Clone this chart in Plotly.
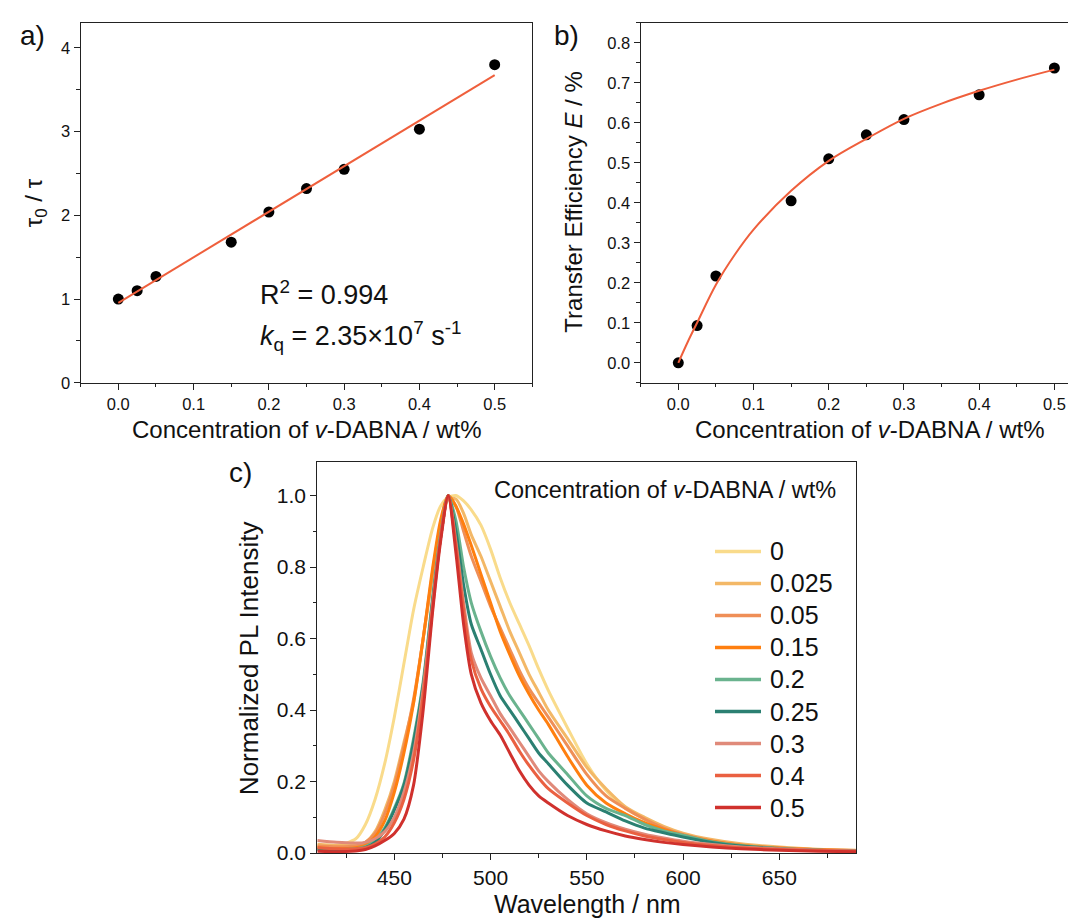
import plotly.graph_objects as go

W, H = 1076, 922
FONT = "Liberation Sans, Arial, sans-serif"

# ---------------- data ----------------
conc = [0, 0.025, 0.05, 0.15, 0.2, 0.25, 0.3, 0.4, 0.5]
tau_ratio = [1.0, 1.10, 1.27, 1.68, 2.04, 2.32, 2.55, 3.03, 3.80]
fit_a_x = [0.0, 0.5]
fit_a_y = [0.955, 3.675]

eff = [0.0, 0.093, 0.217, 0.405, 0.51, 0.57, 0.608, 0.67, 0.737]
fit_b_x = [0, 0.0125, 0.025, 0.05, 0.075, 0.1, 0.15, 0.2, 0.25, 0.3, 0.35, 0.4, 0.45, 0.5]
fit_b_y = [0.0, 0.052, 0.100, 0.195, 0.27, 0.333, 0.43, 0.505, 0.56, 0.61, 0.648, 0.68, 0.708, 0.733]

wavelength = [410, 420, 430, 435, 440, 445, 450, 455, 460, 465, 470, 474, 478, 482, 486, 490,
              495, 500, 505, 510, 515, 520, 525, 530, 540, 550, 560, 570, 580, 590, 600, 615,
              630, 650, 670, 690]

pl_0 = [0.02, 0.02, 0.04, 0.08, 0.15, 0.25, 0.38, 0.53, 0.68, 0.80, 0.91, 0.97, 0.995, 1.0, 0.985, 0.96,
        0.917, 0.85, 0.77, 0.70, 0.64, 0.58, 0.515, 0.455, 0.35, 0.25, 0.175, 0.125, 0.095, 0.07, 0.05, 0.033,
        0.022, 0.014, 0.01, 0.007]
pl_0025 = [0.025, 0.022, 0.022, 0.03, 0.06, 0.12, 0.20, 0.31, 0.42, 0.60, 0.78, 0.90, 0.99, 0.99, 0.95, 0.89,
           0.83, 0.76, 0.69, 0.62, 0.56, 0.50, 0.45, 0.40, 0.32, 0.24, 0.18, 0.13, 0.10, 0.075, 0.056, 0.038,
           0.026, 0.017, 0.011, 0.008]
pl_005 = [0.02, 0.018, 0.02, 0.03, 0.055, 0.11, 0.19, 0.30, 0.43, 0.60, 0.79, 0.92, 1.0, 0.97, 0.90, 0.83,
          0.76, 0.69, 0.63, 0.57, 0.51, 0.46, 0.42, 0.38, 0.30, 0.22, 0.16, 0.125, 0.095, 0.07, 0.052, 0.034,
          0.023, 0.014, 0.01, 0.007]
pl_015 = [0.015, 0.012, 0.015, 0.022, 0.045, 0.09, 0.17, 0.28, 0.42, 0.60, 0.80, 0.93, 1.0, 0.97, 0.92, 0.86,
          0.78, 0.70, 0.62, 0.555, 0.495, 0.445, 0.40, 0.36, 0.27, 0.19, 0.14, 0.11, 0.085, 0.066, 0.05, 0.033,
          0.022, 0.014, 0.009, 0.006]
pl_02 = [0.012, 0.01, 0.012, 0.018, 0.035, 0.07, 0.125, 0.195, 0.32, 0.48, 0.72, 0.89, 1.0, 0.93, 0.80, 0.70,
         0.62, 0.55, 0.49, 0.44, 0.40, 0.36, 0.32, 0.28, 0.22, 0.16, 0.125, 0.105, 0.08, 0.062, 0.05, 0.032,
         0.021, 0.013, 0.008, 0.006]
pl_025 = [0.01, 0.008, 0.01, 0.015, 0.03, 0.065, 0.12, 0.19, 0.31, 0.47, 0.71, 0.88, 1.0, 0.90, 0.75, 0.64,
          0.57, 0.50, 0.44, 0.40, 0.36, 0.32, 0.28, 0.25, 0.19, 0.14, 0.115, 0.09, 0.07, 0.057, 0.045, 0.03,
          0.02, 0.012, 0.008, 0.005]
pl_03 = [0.035, 0.03, 0.028, 0.03, 0.04, 0.06, 0.10, 0.17, 0.28, 0.46, 0.70, 0.88, 1.0, 0.87, 0.70, 0.56,
         0.49, 0.44, 0.39, 0.35, 0.31, 0.27, 0.23, 0.20, 0.15, 0.11, 0.085, 0.067, 0.053, 0.042, 0.033, 0.024,
         0.017, 0.012, 0.008, 0.006]
pl_04 = [0.015, 0.012, 0.012, 0.015, 0.025, 0.045, 0.085, 0.15, 0.26, 0.44, 0.69, 0.88, 1.0, 0.86, 0.68, 0.54,
         0.46, 0.41, 0.37, 0.33, 0.285, 0.245, 0.21, 0.18, 0.14, 0.105, 0.08, 0.062, 0.048, 0.038, 0.03, 0.021,
         0.015, 0.01, 0.007, 0.005]
pl_05 = [0.005, 0.004, 0.006, 0.01, 0.02, 0.035, 0.055, 0.095, 0.19, 0.40, 0.68, 0.87, 1.0, 0.84, 0.64, 0.50,
         0.42, 0.37, 0.33, 0.28, 0.23, 0.19, 0.16, 0.14, 0.105, 0.08, 0.062, 0.048, 0.038, 0.03, 0.024, 0.017,
         0.012, 0.008, 0.005, 0.004]

legend_labels = ["0", "0.025", "0.05", "0.15", "0.2", "0.25", "0.3", "0.4", "0.5"]
spectra = [pl_0, pl_0025, pl_005, pl_015, pl_02, pl_025, pl_03, pl_04, pl_05]
colors = ["#F9DB8B", "#F3B867", "#EF8F57", "#FF7F0F", "#6AB38E", "#2B8072", "#E08A7A", "#EA6041", "#D0312D"]

FIT_COLOR = "#EF5F3C"


def px(x):
    return x / W


def py(y):
    return 1 - y / H


fig = go.Figure()

# panel a
fig.add_trace(go.Scatter(x=conc, y=tau_ratio, mode="markers", marker=dict(size=11, color="black"),
                         xaxis="x", yaxis="y", showlegend=False))
fig.add_trace(go.Scatter(x=fit_a_x, y=fit_a_y, mode="lines", line=dict(color=FIT_COLOR, width=2),
                         xaxis="x", yaxis="y", showlegend=False))
# panel b
fig.add_trace(go.Scatter(x=conc, y=eff, mode="markers", marker=dict(size=11, color="black"),
                         xaxis="x2", yaxis="y2", showlegend=False))
fig.add_trace(go.Scatter(x=fit_b_x, y=fit_b_y, mode="lines", line=dict(color=FIT_COLOR, width=2, shape="spline"),
                         xaxis="x2", yaxis="y2", showlegend=False))
# panel c
for lab, ys, col in zip(legend_labels, spectra, colors):
    fig.add_trace(go.Scatter(x=wavelength, y=ys, mode="lines", name=lab,
                             line=dict(color=col, width=3, shape="spline", smoothing=0.7),
                             xaxis="x3", yaxis="y3", showlegend=False))


def axis_style(size):
    return dict(showline=True, linecolor="#222", linewidth=1.3, mirror=True,
                ticks="outside", ticklen=6, tickwidth=1.3, tickcolor="#222",
                showgrid=False, zeroline=False,
                tickfont=dict(family=FONT, size=size, color="#111"),
                minor=dict(ticks="outside", ticklen=3.5, tickwidth=1.3, tickcolor="#222", showgrid=False))


ya_dom = [py(379.3), py(15)]
fig.update_layout(
    width=W, height=H, margin=dict(l=0, r=0, t=0, b=0),
    paper_bgcolor="white", plot_bgcolor="white",
    font=dict(family=FONT, color="#111"),
    xaxis=dict(**axis_style(16.5), domain=[px(72.7), px(524.3)], range=[-0.05, 0.55],
               dtick=0.1, tickformat=".1f", anchor="y"),
    yaxis=dict(**axis_style(16.5), domain=ya_dom, range=[0, 4.3], dtick=1, anchor="x"),
    xaxis2=dict(**axis_style(16.5), domain=[px(632.7), 1.0], range=[-0.05, 0.5394],
                dtick=0.1, tickformat=".1f", anchor="y2"),
    yaxis2=dict(**axis_style(16.5), domain=ya_dom, range=[-0.05, 0.85], dtick=0.1,
                tickformat=".1f", anchor="x2"),
    xaxis3=dict(**axis_style(21), domain=[px(309.3), px(848.3)], range=[410, 690], dtick=50, anchor="y3"),
    yaxis3=dict(**axis_style(21), domain=[py(855.3), py(459)], range=[0, 1.095], dtick=0.2,
                tickformat=".1f", anchor="x3"),
)
fig.layout.xaxis.minor.dtick = 0.05
fig.layout.yaxis.minor.dtick = 0.5
fig.layout.xaxis2.minor.dtick = 0.05
fig.layout.yaxis2.minor.dtick = 0.05
fig.layout.yaxis2.mirror = False
fig.layout.xaxis3.minor.dtick = 25
fig.layout.yaxis3.minor.dtick = 0.1

ann = []


def add_text(x, y, text, size, xanchor="center", yanchor="middle", angle=0):
    ann.append(dict(x=px(x), y=py(y), xref="paper", yref="paper", text=text, showarrow=False,
                    xanchor=xanchor, yanchor=yanchor, textangle=angle,
                    font=dict(family=FONT, size=size, color="#111")))


# panel labels
add_text(10, 28, "a)", 28, xanchor="left")
add_text(544, 28, "b)", 28, xanchor="left")
add_text(219, 470, "c)", 28, xanchor="left")

# axis titles
add_text(298.5, 427, "Concentration of <i>v</i>-DABNA / wt%", 24)
add_text(861, 427, "Concentration of <i>v</i>-DABNA / wt%", 24)
add_text(27.5, 197, "τ<sub>0</sub> / τ", 24, angle=-90)
add_text(566, 197, "Transfer Efficiency <i>E</i> / %", 24, angle=-90)
add_text(579, 907, "Wavelength / nm", 25)
add_text(241, 658, "Normalized PL Intensity", 26, angle=-90)

# fit annotations
add_text(250, 288, "R<sup>2</sup> = 0.994", 27, xanchor="left")
add_text(250, 332, "<i>k</i><sub>q</sub> = 2.35×10<sup>7</sup> s<sup>-1</sup>", 27, xanchor="left")

# legend for panel c
add_text(830, 488, "Concentration of <i>v</i>-DABNA / wt%", 23.5, xanchor="right")
shapes = []
for i, (lab, col) in enumerate(zip(legend_labels, colors)):
    yc = 550 + i * 32.4
    shapes.append(dict(type="line", xref="paper", yref="paper", x0=px(707), x1=px(753),
                       y0=py(yc), y1=py(yc), line=dict(color=col, width=3.5)))
    add_text(760, yc, lab, 25, xanchor="left")

fig.update_layout(annotations=ann, shapes=shapes)

fig.write_html("out.html")
